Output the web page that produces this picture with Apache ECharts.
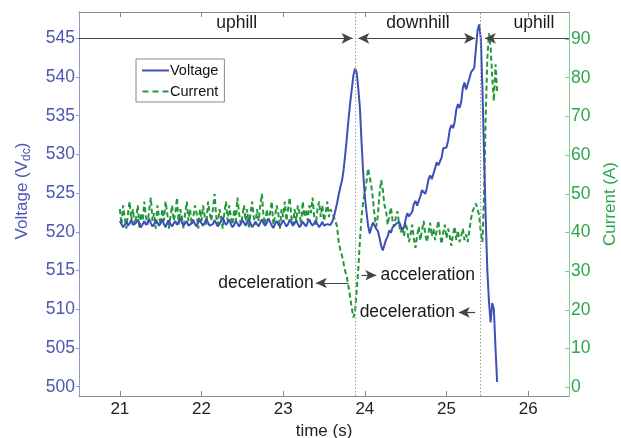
<!DOCTYPE html>
<html><head><meta charset="utf-8">
<script src="https://cdn.jsdelivr.net/npm/echarts@6/dist/echarts.min.js"></script>
<style>html,body{margin:0;padding:0;background:#fff}#c{width:621px;height:438px}</style>
</head><body><div id="c"></div>
<script>
// ---- data (sample spacing 0.02 s) ----
const timeStep = 0.02;

const voltageFlatStart = 21.00;
const voltageFlat = [
521.4,521.0,520.6,520.9,521.3,520.8,521.1,521.5,520.9,520.7,
521.2,521.6,521.0,520.6,521.0,521.4,520.9,521.2,521.7,521.1,
520.7,521.0,521.5,521.2,520.8,521.1,521.6,521.0,520.6,521.2,
521.5,521.0,520.7,521.1,521.4,520.9,521.3,521.8,521.2,520.8,
521.0,521.4,520.8,520.6,521.1,521.5,521.0,520.7,521.3,521.6,
521.1,520.8,521.2,521.7,521.2,520.8,520.6,521.0,521.5,521.1,
520.7,521.0,521.4,521.9,521.3,520.9,521.2,521.6,521.0,520.6,
520.9,521.4,521.1,520.7,521.0,521.5,521.2,520.8,521.3,521.7,
521.1,520.6,520.9,521.3,521.0,520.7,521.2,521.6,521.1,520.8,
521.2,521.7,521.3,520.8,520.5,521.0,521.4,521.0,520.7,521.1,
521.5,521.1,520.7,521.0,521.6,521.2,520.8,521.1,521.5,521.0,
520.6,520.9,521.3,521.0,520.7,521.2,521.6,521.1,520.8,521.0,
521.4,521.0,520.6,520.9,521.3,520.8,520.6,521.0,521.2,520.9
];
const voltagePeakStart = 23.60;
const voltagePeak = [
521.3,521.9,522.8,523.7,524.8,525.8,526.6,528.0,530.0,532.2,
534.5,536.6,538.4,540.2,541.1,540.6,538.5,536.0,531.5,527.6,
524.6,522.6,520.8,519.8,520.6,521.2,520.8,520.4,520.1,519.2,
518.2,517.6,518.3,519.0,519.4,520.2,519.9,520.6,520.4,521.0
];
const voltageRiseStart = 24.40;
const voltageRise = [
520.9,521.3,520.7,520.3,520.6,521.6,522.4,522.0,521.8,522.6,
523.6,524.0,523.4,523.5,524.6,525.4,525.2,524.9,525.7,526.8,
527.3,526.8,527.0,528.2,529.0,528.6,528.5,529.6,530.8,531.0,
530.9,531.8,533.2,533.8,533.4,534.2,535.8,536.5,536.0,536.8,
538.6,539.3,538.4,538.2,539.8,540.6,540.4,541.2,543.6,546.0,
546.8,545.0,538.5,530.0,521.8,515.0,511.0,508.3,510.8,510.0,
505.0,500.6
];

const currentFlatStart = 21.00;
const currentFlat = [
46,42,47,44,41,45,48,43,46,42,
44,47,41,45,43,48,44,42,46,49,
43,45,41,47,44,42,46,43,48,45,
41,44,47,43,45,49,42,46,44,41,
45,48,43,46,42,44,47,45,41,46,
43,47,44,42,48,45,43,46,50,44,
42,46,44,41,45,48,43,47,44,42,
46,43,49,45,42,44,47,43,46,41,
45,48,44,42,46,43,47,50,44,42,
46,43,45,48,42,44,47,45,41,46,
44,48,43,46,49,44,42,46,43,47,
45,42,48,44,46,43,47,45,49,44,
42,46,48,44,47,43,45,48,44,46,
45,44
];
const currentDipStart = 23.64;
const currentDip = [
43,41.5,37.5,35.5,34,32,30,28.4,26,23.3,
20.5,18,19.5,25,30.5,38,44,48,50.2,53,
56.5,56,52,48.5,44,41.5,44.5,50,53.5,51,
47
];
const currentMidStart = 24.26;
const currentMid = [
45.5,42.0,44.5,46.5,43.0,41.5,44.0,45.5,42.0,40.0,
41.5,39.0,42.5,40.5,37.5,39.5,42.0,38.5,36.0,39.0,
41.5,38.0,40.5,43.0,39.5,37.5,40.0,42.5,39.0,41.0,
38.0,40.5,43.0,39.5,37.0,40.0,42.0,38.5,41.0,39.0,
36.5,39.5,41.5,38.0,40.5,37.5,39.0,41.0,38.0,39.5
];
const currentEndStart = 25.26;
const currentEnd = [
37.5,40.5,43.5,45.5,46.5,47.5,46.0,44.5,40.0,37.5,
50.0,70.0,85.0,91.5,88.0,80.0,74.0,83.5,76.5
];

const xTicks = [21, 22, 23, 24, 25, 26];
const voltageTicks = [500, 505, 510, 515, 520, 525, 530, 535, 540, 545];
const currentTicks = [0, 10, 20, 30, 40, 50, 60, 70, 80, 90];
const phaseBoundaries = [23.88, 25.41];
const phaseNames = ['uphill', 'downhill', 'uphill'];
const eventNames = ['deceleration', 'acceleration', 'deceleration'];

// ---- build ----
function seg(start, vals) { return vals.map((v, i) => [+(start + i * timeStep).toFixed(2), v]); }
const voltageData = [].concat(seg(voltageFlatStart, voltageFlat), seg(voltagePeakStart, voltagePeak), seg(voltageRiseStart, voltageRise));
const currentData = [].concat(seg(currentFlatStart, currentFlat), seg(currentDipStart, currentDip), seg(currentMidStart, currentMid), seg(currentEndStart, currentEnd));

const FONT = '"Liberation Sans", Arial, Helvetica, sans-serif';
const BLUE = '#3e4fb6';
const BLUE_TXT = '#4b57b3';
const BLUE_AX = '#8f96d2';
const GREEN = '#23973a';
const GREEN_TXT = '#2ea64a';
const GREEN_AX = '#7fcf8f';
const GRAY = '#8a8a8a';

const arrowStyle = { color: '#444', width: 1.2, type: 'solid' };
const arrowY = 545;
function arrow(x0, y0, s0, x1, y1, s1) {
  return [{ coord: [x0, y0], symbol: s0 }, { coord: [x1, y1], symbol: s1 }];
}

const textLabel = (name, x, y) => ({
  value: [x, y],
  label: { show: true, formatter: name, position: 'inside', verticalAlign: 'middle',
           color: '#1a1a1a', opacity: 1, fontSize: 17.5, fontFamily: FONT }
});

const option = {
  animation: false,
  backgroundColor: '#fff',
  textStyle: { fontFamily: FONT },
  grid: { left: 79, top: 12, width: 490, height: 384, containLabel: false, outerBoundsMode: 'none' },
  legend: {
    data: [
      { name: 'Voltage', icon: 'rect' },
      { name: 'Current', icon: 'path://M0,0h6v2h-6z M10,0h6v2h-6z M20,0h6v2h-6z' }
    ],
    orient: 'vertical', left: 136, top: 59,
    itemWidth: 27, itemHeight: 2, itemGap: 6,
    padding: [4, 6, 3, 6],
    borderColor: '#888', borderWidth: 1, backgroundColor: '#fff',
    textStyle: { fontSize: 14.5, color: '#111', fontFamily: FONT, padding: [0, 0, 0, -4] }
  },
  xAxis: [{
    type: 'value', position: 'bottom', min: 20.5, max: 26.5,
    axisLine: { show: true, onZero: false, lineStyle: { color: GRAY, width: 1 } },
    axisTick: { show: true, inside: true, length: 5, lineStyle: { color: GRAY }, customValues: xTicks },
    axisLabel: { margin: 5, color: '#222', fontSize: 17, fontFamily: FONT, customValues: xTicks,
                 formatter: v => String(Math.round(v)) },
    splitLine: { show: false },
    name: 'time (s)', nameLocation: 'middle', nameGap: 25,
    nameTextStyle: { color: '#222', fontSize: 17, fontFamily: FONT }
  }, {
    type: 'value', position: 'top', min: 20.5, max: 26.5,
    axisLine: { show: true, onZero: false, lineStyle: { color: GRAY, width: 1 } },
    axisTick: { show: true, inside: true, length: 5, lineStyle: { color: GRAY }, customValues: xTicks },
    axisLabel: { show: false }, splitLine: { show: false }
  }],
  yAxis: [{
    type: 'value', position: 'left', min: 498.8, max: 548.4,
    axisLine: { show: true, onZero: false, lineStyle: { color: BLUE_AX, width: 1 } },
    axisTick: { show: true, inside: false, length: 3, lineStyle: { color: BLUE_AX }, customValues: voltageTicks },
    axisLabel: { margin: 4, color: BLUE_TXT, fontSize: 17.5, fontFamily: FONT, customValues: voltageTicks,
                 formatter: v => String(Math.round(v)) },
    splitLine: { show: false },
    name: '{a|Voltage (V}{b|dc}{a|)}', nameLocation: 'middle', nameGap: 46, nameRotate: 90,
    nameTextStyle: { padding: [0, 0, 0, 26], rich: {
      a: { fontSize: 17, color: BLUE_TXT, fontFamily: FONT },
      b: { fontSize: 12, color: BLUE_TXT, fontFamily: FONT, padding: [9, 0, 0, 0] }
    } }
  }, {
    type: 'value', position: 'right', min: -2.3, max: 97.0,
    axisLine: { show: true, onZero: false, lineStyle: { color: GREEN_AX, width: 1 } },
    axisTick: { show: true, inside: true, length: 4, lineStyle: { color: GREEN_AX }, customValues: currentTicks },
    axisLabel: { margin: 2, color: GREEN_TXT, fontSize: 17.5, fontFamily: FONT, customValues: currentTicks,
                 formatter: v => String(Math.round(v)) },
    splitLine: { show: false },
    name: 'Current (A)', nameLocation: 'middle', nameGap: 29, nameRotate: 90,
    nameTextStyle: { color: GREEN_TXT, fontSize: 17, fontFamily: FONT }
  }],
  series: [{
    name: 'Current', type: 'line', xAxisIndex: 0, yAxisIndex: 1, data: currentData,
    showSymbol: false, symbol: 'none', z: 3,
    lineStyle: { color: GREEN, width: 2, type: [5, 3] }, itemStyle: { color: GREEN },
    markLine: {
      silent: true, symbol: 'none', label: { show: false },
      lineStyle: { color: '#9a9a9a', width: 1, type: [1.5, 2] },
      data: phaseBoundaries.map(b => ({ xAxis: b }))
    }
  }, {
    name: 'Voltage', type: 'line', xAxisIndex: 0, yAxisIndex: 0, data: voltageData,
    showSymbol: false, symbol: 'none', z: 4,
    lineStyle: { color: BLUE, width: 2 }, itemStyle: { color: BLUE },
    markLine: {
      silent: true, label: { show: false }, symbolSize: [8, 11],
      lineStyle: arrowStyle,
      data: [
        arrow(20.5, arrowY, 'none', 23.85, arrowY, 'arrow'),
        arrow(23.92, arrowY, 'arrow', 25.35, arrowY, 'arrow'),
        arrow(25.47, arrowY, 'arrow', 26.5, arrowY, 'none'),
        arrow(23.80, 513.4, 'none', 23.40, 513.4, 'arrow'),
        arrow(23.96, 514.4, 'none', 24.14, 514.4, 'arrow'),
        arrow(25.35, 509.6, 'none', 25.15, 509.6, 'arrow')
      ]
    }
  }, {
    name: 'annotations', type: 'scatter', xAxisIndex: 0, yAxisIndex: 0,
    symbolSize: 1, itemStyle: { color: 'rgba(0,0,0,0)' }, silent: true, z: 6,
    emphasis: { disabled: true },
    data: [
      textLabel(phaseNames[0], 22.43, 546.9),
      textLabel(phaseNames[1], 24.65, 546.9),
      textLabel(phaseNames[2], 26.07, 546.9),
      textLabel(eventNames[0], 22.79, 513.4),
      textLabel(eventNames[1], 24.77, 514.4),
      textLabel(eventNames[2], 24.52, 509.6)
    ]
  }]
};
const chart = echarts.init(document.getElementById('c'), null, { renderer: 'canvas' });
chart.setOption(option);
</script>
</body></html>
